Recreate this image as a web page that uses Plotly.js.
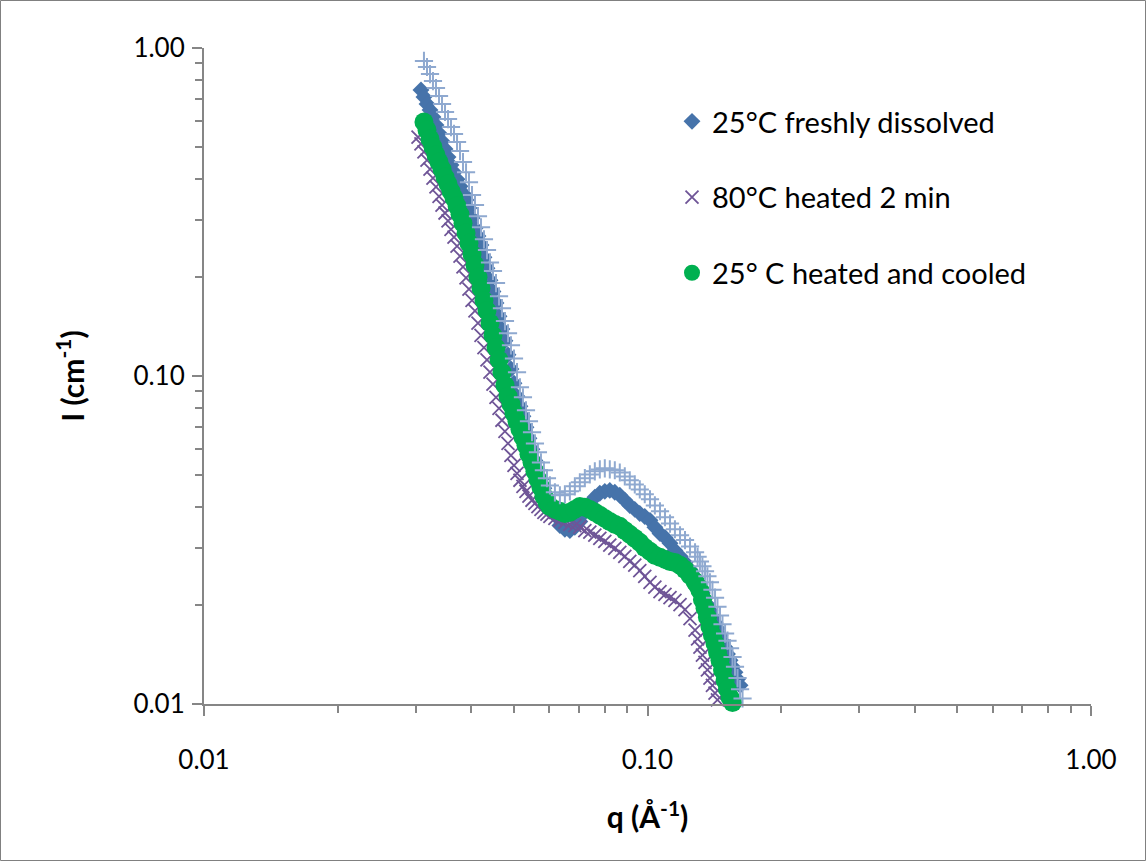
<!DOCTYPE html>
<html>
<head>
<meta charset="utf-8">
<script src="https://cdn.plot.ly/plotly-3.0.1.min.js"></script>
<style>
  html, body { margin: 0; padding: 0; background: #fff; }
  #chart { width: 1146px; height: 861px; }
</style>
</head>
<body>
<div id="chart"></div>
<script>
// scattering vector q (1/Å)
const q = [0.03038, 0.03085, 0.03133, 0.03183, 0.03233, 0.03283, 0.03335, 0.03388, 0.03441, 0.03495,
  0.03550, 0.03605, 0.03662, 0.03720, 0.03778, 0.03837, 0.03898, 0.03958, 0.04021, 0.04083,
  0.04147, 0.04213, 0.04278, 0.04346, 0.04414, 0.04483, 0.04554, 0.04626, 0.04697, 0.04771,
  0.04847, 0.04922, 0.05000, 0.05079, 0.05157, 0.05238, 0.05321, 0.05404, 0.05490, 0.05574,
  0.05662, 0.05751, 0.05840, 0.05933, 0.06025, 0.06183, 0.06345, 0.06512, 0.06683, 0.06858,
  0.07038, 0.07223, 0.07413, 0.07607, 0.07807, 0.08012, 0.08222, 0.08439, 0.08660, 0.08888,
  0.09121, 0.09361, 0.09607, 0.09859, 0.1013, 0.1039, 0.1067, 0.1095, 0.1124, 0.1153,
  0.1184, 0.1215, 0.1247,
  0.1280, 0.1297, 0.1313, 0.1330, 0.1348, 0.1365, 0.1383, 0.1401, 0.1420, 0.1438,
  0.1457, 0.1476, 0.1496, 0.1515, 0.1535, 0.1555, 0.1575, 0.1596, 0.1617, 0.1638, 0.1659];

// 25°C freshly dissolved (diamonds)
const iFresh = [null, 0.745, 0.709, 0.675, 0.647, 0.616, 0.582, 0.550, 0.520, 0.492,
  0.465, 0.440, 0.418, 0.398, 0.379, 0.361, 0.344, 0.325, 0.303, 0.282,
  0.267, 0.251, 0.230, 0.213, 0.196, 0.181, 0.167, 0.152, 0.139, 0.128,
  0.116, 0.105, 0.0950, 0.0867, 0.0809, 0.0754, 0.0698, 0.0646, 0.0598, 0.0553,
  0.0516, 0.0484, 0.0455, 0.0430, 0.0409, 0.0376, 0.0350, 0.0341, 0.0338, 0.0346,
  0.0360, 0.0384, 0.0409, 0.0427, 0.0439, 0.0445, 0.0448, 0.0442, 0.0433, 0.0418,
  0.0403, 0.0392, 0.0381, 0.0373, 0.0363, 0.0346, 0.0331, 0.0322, 0.0309, 0.0294,
  0.0282, 0.0270, 0.0257,
  0.0244, 0.0236, 0.0227, 0.0218, 0.0210, 0.0201, 0.0193, 0.0185, 0.0177, 0.0170,
  0.0162, 0.0155, 0.0149, 0.0142, 0.0136, 0.0130, 0.0125, 0.0119, 0.0114, null, null];

// 80°C heated 2 min (x)
const iHot = [0.535, 0.510, 0.482, 0.455, 0.427, 0.401, 0.377, 0.353, 0.332, 0.314,
  0.297, 0.280, 0.265, 0.249, 0.232, 0.215, 0.199, 0.184, 0.170, 0.158,
  0.145, 0.133, 0.122, 0.112, 0.1027, 0.0944, 0.0861, 0.0797, 0.0733, 0.0678,
  0.0623, 0.0573, 0.0534, 0.0505, 0.0481, 0.0461, 0.0445, 0.0430, 0.0418, 0.0409,
  0.0400, 0.0392, 0.0384, 0.0379, 0.0373, 0.0368, 0.0363, 0.0358, 0.0353, 0.0350,
  0.0346, 0.0338, 0.0334, 0.0327, 0.0320, 0.0313, 0.0305, 0.0298, 0.0290, 0.0282,
  0.0272, 0.0265, 0.0255, 0.0245, 0.0235, 0.0227, 0.0220, 0.0216, 0.0211, 0.0207,
  0.0201, 0.0194, 0.0182,
  0.0168, 0.0158, 0.0149, 0.0141, 0.0134, 0.0127, 0.0120, 0.0114, 0.0108, 0.0103,
  0.00983, 0.00960, 0.0094, null, null, null, null, null, null, null, null];

// 25° C heated and cooled (circles)
const iCooled = [null, null, 0.595, 0.562, 0.528, 0.499, 0.472, 0.449, 0.427, 0.404,
  0.385, 0.366, 0.349, 0.330, 0.311, 0.292, 0.273, 0.254, 0.235, 0.218,
  0.200, 0.185, 0.170, 0.158, 0.145, 0.133, 0.122, 0.112, 0.1027, 0.0937,
  0.0867, 0.0820, 0.0770, 0.0728, 0.0688, 0.0650, 0.0615, 0.0577, 0.0545, 0.0512,
  0.0484, 0.0458, 0.0430, 0.0412, 0.0400, 0.0392, 0.0387, 0.0381, 0.0384, 0.0392,
  0.0400, 0.0398, 0.0392, 0.0384, 0.0376, 0.0368, 0.0360, 0.0353, 0.0348, 0.0338,
  0.0329, 0.0320, 0.0311, 0.0300, 0.0292, 0.0284, 0.0280, 0.0276, 0.0272, 0.0270,
  0.0265, 0.0257, 0.0247,
  0.0236, 0.0230, 0.0222, 0.0208, 0.0196, 0.0184, 0.0172, 0.0162, 0.0153, 0.0144,
  0.0136, 0.0127, 0.0118, 0.0111, 0.01047, 0.0101, 0.0098, null, null, null, null];

// fourth series, drawn with + markers (no legend entry)
const iPlus = [null, null, 0.913, 0.875, 0.833, 0.793, 0.755, 0.714, 0.675, 0.638,
  0.607, 0.574, 0.547, 0.517, 0.485, 0.449, 0.418, 0.390, 0.356, 0.332,
  0.307, 0.284, 0.261, 0.242, 0.222, 0.209, 0.192, 0.175, 0.161, 0.147,
  0.135, 0.124, 0.113, 0.1027, 0.0924, 0.0861, 0.0786, 0.0728, 0.0674, 0.0623,
  0.0585, 0.0545, 0.0516, 0.0488, 0.0464, 0.0442, 0.0433, 0.0436, 0.0445, 0.0461,
  0.0474, 0.0488, 0.0501, 0.0512, 0.0519, 0.0523, 0.0519, 0.0516, 0.0508, 0.0494,
  0.0481, 0.0467, 0.0451, 0.0436, 0.0421, 0.0403, 0.0387, 0.0371, 0.0355, 0.0341,
  0.0327, 0.0316, 0.0302,
  0.0290, 0.0281, 0.0272, 0.0263, 0.0254, 0.0245, 0.0235, 0.0223, 0.0211, 0.0198,
  0.0186, 0.0175, 0.0164, 0.0156, 0.0148, 0.0139, 0.0130, 0.0120, 0.0111, 0.0104, null];

const seriesNames = ['25°C freshly dissolved', '80°C heated 2 min', '25° C heated and cooled'];

const majorTicks = [0.01, 0.1, 1];
const majorLabels = ['0.01', '0.10', '1.00'];
const minorTicks = [0.02, 0.03, 0.04, 0.05, 0.06, 0.07, 0.08, 0.09, 0.2, 0.3, 0.4, 0.5, 0.6, 0.7, 0.8, 0.9];

const FONT = 'Lato, "Open Sans", sans-serif';
const AX = '#868686';

const traces = [
  {
    x: q, y: iFresh, name: seriesNames[0], type: 'scatter', mode: 'markers',
    legendgroup: 'a', cliponaxis: false,
    marker: { symbol: 'diamond', size: 13, color: '#4673AA', line: { width: 0 } }
  },
  {
    x: q, y: iHot, name: seriesNames[1], type: 'scatter', mode: 'markers',
    legendgroup: 'b', cliponaxis: false,
    marker: { symbol: 'x-thin', size: 13, color: '#6F5597', line: { width: 1.8, color: '#6F5597' } }
  },
  {
    x: q, y: iCooled, name: seriesNames[2], type: 'scatter', mode: 'markers',
    legendgroup: 'c', cliponaxis: false,
    marker: { symbol: 'circle', size: 19, color: '#00B050', line: { width: 0 } }
  },
  {
    x: q, y: iPlus, name: 'series 4', type: 'scatter', mode: 'markers',
    showlegend: false, cliponaxis: false,
    marker: { symbol: 'cross-thin', size: 13, color: '#8FA9D0', line: { width: 2, color: '#8FA9D0' } }
  }
];

function axis(titleText, standoff, labelStandoff) {
  return {
    type: 'log', range: [-2, 0],
    tickmode: 'array', tickvals: majorTicks, ticktext: majorLabels,
    ticks: 'outside', ticklen: 10, tickwidth: 2, tickcolor: AX,
    showline: true, linecolor: AX, linewidth: 2,
    showgrid: false, zeroline: false,
    ticklabelstandoff: labelStandoff,
    tickfont: { family: FONT, size: 26, color: '#000' },
    minor: { tickmode: 'array', tickvals: minorTicks, ticks: 'outside', ticklen: 7,
             tickwidth: 2, tickcolor: AX, showgrid: false },
    title: { text: titleText, standoff: standoff, font: { family: FONT, size: 30, color: '#000' } }
  };
}

const W = 1146, H = 861, L = 204, R = 55, T = 48, B = 157;
const pw = W - L - R, ph = H - T - B;

const layout = {
  width: W, height: H,
  margin: { l: L, r: R, t: T, b: B },
  paper_bgcolor: '#fff', plot_bgcolor: '#fff',
  font: { family: FONT, size: 26, color: '#000' },
  xaxis: axis('<b>q (Å<sup>-1</sup>)</b>', 33, 22),
  yaxis: axis('<b>I (cm<sup>-1</sup>)</b>', 40, 2),
  showlegend: true,
  legend: {
    x: (672 - L) / pw, y: (H - B - 96) / ph, xanchor: 'left', yanchor: 'top',
    bgcolor: 'rgba(0,0,0,0)', borderwidth: 0,
    traceorder: 'grouped', tracegroupgap: 35,
    font: { family: FONT, size: 29, color: '#000' }
  },
  shapes: [{
    type: 'rect', xref: 'paper', yref: 'paper',
    x0: (0.5 - L) / pw, x1: (W - 0.5 - L) / pw,
    y0: (H - B - (H - 0.5)) / ph, y1: (H - B - 0.5) / ph,
    line: { color: '#808080', width: 1 }, fillcolor: 'rgba(0,0,0,0)', layer: 'below'
  }]
};

Plotly.newPlot('chart', traces, layout, { displayModeBar: false, staticPlot: true });
</script>
</body>
</html>
